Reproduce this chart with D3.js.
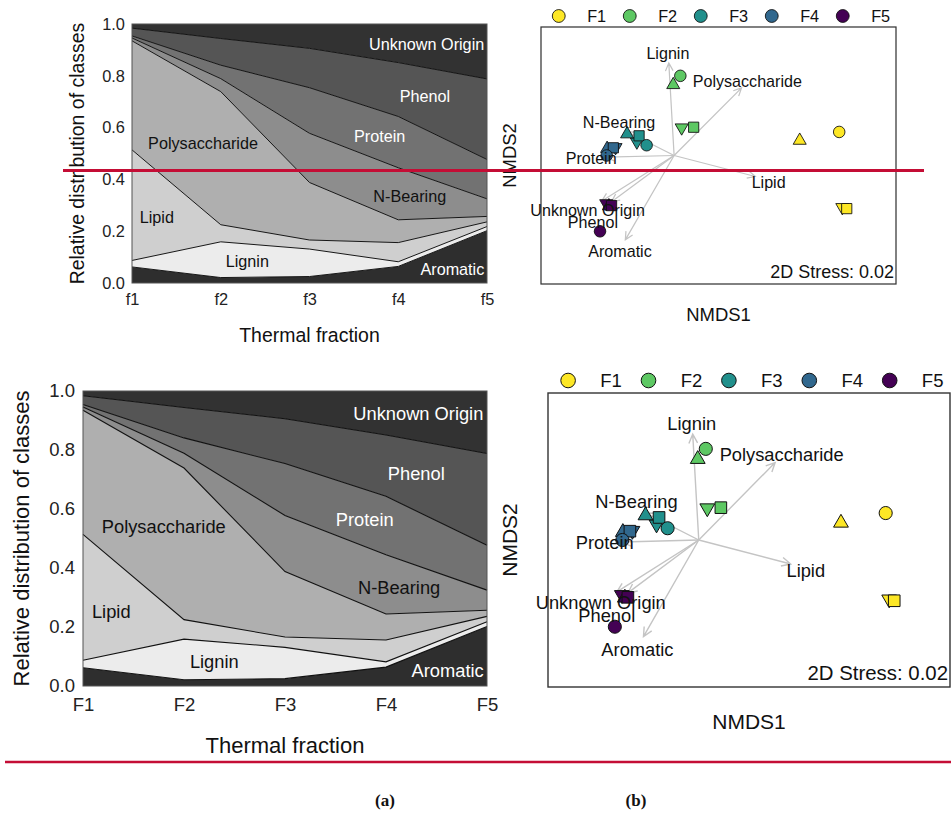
<!DOCTYPE html>
<html>
<head>
<meta charset="utf-8">
<script src="https://cdn.jsdelivr.net/npm/d3@7"></script>
<style>
  body { margin: 0; background: #fff; }
  svg { display: block; }
  text { font-family: "Liberation Sans", Arial, sans-serif; }
</style>
</head>
<body>
<script>
const W = 951, H = 813;

// ---- stacked area data (share of each class per thermal fraction) ----
const fractionsLower = ['f1', 'f2', 'f3', 'f4', 'f5'];
const fractionsUpper = ['F1', 'F2', 'F3', 'F4', 'F5'];
const classes = ['Aromatic', 'Lignin', 'Lipid', 'Polysaccharide', 'N-Bearing', 'Protein', 'Phenol', 'Unknown Origin'];
const aromatic       = [0.062, 0.021, 0.025, 0.064, 0.202];
const lignin         = [0.025, 0.138, 0.106, 0.018, 0.016];
const lipid          = [0.427, 0.066, 0.035, 0.074, 0.018];
const polysaccharide = [0.421, 0.514, 0.222, 0.088, 0.021];
const nBearing       = [0.011, 0.050, 0.190, 0.201, 0.068];
const protein        = [0.008, 0.052, 0.176, 0.198, 0.152];
const phenol         = [0.030, 0.103, 0.152, 0.208, 0.311];
const unknownOrigin  = [0.016, 0.056, 0.094, 0.149, 0.212];
const yTicks = [0, 0.2, 0.4, 0.6, 0.8, 1.0];
// where the class names sit, in (fraction index, share) units
const areaLabelX = [3.61, 1.30, 0.28, 0.80, 3.13, 2.79, 3.30, 3.32];
const areaLabelY = [0.052, 0.082, 0.252, 0.541, 0.335, 0.565, 0.719, 0.922];

const classFill = ['#2e2e2e', '#ececec', '#cfcfcf', '#afafaf', '#8d8d8d', '#727272', '#555555', '#323232'];
const classText = ['#fff', '#111', '#111', '#111', '#111', '#fff', '#fff', '#fff'];

// ---- NMDS data ----
const groups = ['F1', 'F2', 'F3', 'F4', 'F5'];
const groupColor = ['#FDE725', '#5DC863', '#21908C', '#31688E', '#440154'];
// sample scores per group, order: down-triangle, triangle, square, circle
const shapes = ['down', 'triangle', 'square', 'circle'];
const nmds1F1 = [0.379, 0.283, 0.389, 0.372];
const nmds2F1 = [-0.121, 0.035, -0.124, 0.055];
const nmds1F2 = [0.017, -0.002, 0.044, 0.014];
const nmds2F2 = [0.065, 0.165, 0.066, 0.186];
const nmds1F3 = [-0.084, -0.106, -0.079, -0.062];
const nmds2F3 = [0.032, 0.050, 0.046, 0.024];
const nmds1F4 = [-0.132, -0.151, -0.137, -0.152];
const nmds2F4 = [0.019, 0.016, 0.018, 0.000];
const nmds1F5 = [-0.153, -0.147, -0.141, -0.167];
const nmds2F5 = [-0.112, -0.118, -0.117, -0.177];
// fitted class vectors
const vectorNames = ['Lignin', 'Polysaccharide', 'N-Bearing', 'Protein', 'Lipid', 'Unknown Origin', 'Phenol', 'Aromatic'];
const vecNmds1 = [-0.012, 0.152, -0.105, -0.153, 0.183, -0.163, -0.141, -0.110];
const vecNmds2 = [0.216, 0.158, 0.055, -0.004, -0.049, -0.106, -0.108, -0.197];
const vecLabelNmds1 = [-0.014, 0.165, -0.124, -0.187, 0.213, -0.195, -0.183, -0.122];
const vecLabelNmds2 = [0.238, 0.174, 0.078, -0.006, -0.063, -0.128, -0.155, -0.223];
const stressText = '2D Stress: 0.02';

const svg = d3.select('body').append('svg')
  .attr('width', W)
  .attr('height', H);

const series = [aromatic, lignin, lipid, polysaccharide, nBearing, protein, phenol, unknownOrigin];
const rows = d3.range(5).map(i => {
  const r = { i: i };
  classes.forEach((c, j) => r[c] = series[j][i]);
  return r;
});
const stacked = d3.stack().keys(classes)(rows);

function drawArea(box, k, tickLabels) {
  const g = svg.append('g');
  const x = d3.scaleLinear().domain([0, 4]).range([box.x0, box.x1]);
  const y = d3.scaleLinear().domain([0, 1]).range([box.y1, box.y0]);

  const area = d3.area()
    .x(d => x(d.data.i))
    .y0(d => y(d[0]))
    .y1(d => y(d[1]));
  const line = d3.line()
    .x(d => x(d.data.i))
    .y(d => y(d[1]));

  g.selectAll('path.layer')
    .data(stacked)
    .enter().append('path')
    .attr('class', 'layer')
    .attr('d', area)
    .attr('fill', (d, i) => classFill[i]);

  g.selectAll('path.edge')
    .data(stacked.slice(0, -1))
    .enter().append('path')
    .attr('class', 'edge')
    .attr('d', line)
    .attr('fill', 'none')
    .attr('stroke', '#111')
    .attr('stroke-width', 1.1 * k);

  g.append('rect')
    .attr('x', box.x0).attr('y', box.y0)
    .attr('width', box.x1 - box.x0).attr('height', box.y1 - box.y0)
    .attr('fill', 'none')
    .attr('stroke', '#555')
    .attr('stroke-width', 1);

  g.selectAll('text.cls')
    .data(classes)
    .enter().append('text')
    .attr('class', 'cls')
    .attr('x', (d, i) => x(areaLabelX[i]))
    .attr('y', (d, i) => y(areaLabelY[i]))
    .attr('dy', '0.35em')
    .attr('text-anchor', 'middle')
    .attr('fill', (d, i) => classText[i])
    .style('font-size', (18.3 * k) + 'px')
    .text(d => d);

  const ya = g.append('g')
    .attr('transform', `translate(${box.x0},0)`)
    .call(d3.axisLeft(y).tickValues(yTicks).tickFormat(d3.format('.1f')).tickSize(0).tickPadding(8 * k));
  ya.select('.domain').remove();
  ya.selectAll('text').style('font-size', (18.5 * k) + 'px').attr('fill', '#222')
    .style('font-family', '"Liberation Sans", Arial, sans-serif');

  const xa = g.append('g')
    .attr('transform', `translate(0,${box.y1})`)
    .call(d3.axisBottom(x).tickValues(d3.range(5)).tickFormat(i => tickLabels[i]).tickSize(0).tickPadding(12 * k));
  xa.select('.domain').remove();
  xa.selectAll('text').style('font-size', (18.5 * k) + 'px').attr('fill', '#222')
    .style('font-family', '"Liberation Sans", Arial, sans-serif');

  g.append('text')
    .attr('x', (box.x0 + box.x1) / 2)
    .attr('y', box.y1 + 59 * k)
    .attr('dy', '0.35em')
    .attr('text-anchor', 'middle')
    .attr('fill', '#111')
    .style('font-size', (22 * k) + 'px')
    .text('Thermal fraction');

  const cy = (box.y0 + box.y1) / 2;
  g.append('text')
    .attr('transform', `translate(${box.x0 - 62 * k},${cy}) rotate(-90)`)
    .attr('dy', '0.35em')
    .attr('text-anchor', 'middle')
    .attr('fill', '#111')
    .style('font-size', (22 * k) + 'px')
    .text('Relative distribution of classes');
}

function drawNmds(box, k, nmds2X) {
  const g = svg.append('g');
  const w = box.x1 - box.x0;
  const x = d3.scaleLinear().domain([-0.3, 0.5]).range([box.x0, box.x1]);
  const y = d3.scaleLinear().domain([-0.3, 0.3]).range([box.y1, box.y0]);

  g.append('rect')
    .attr('x', box.x0).attr('y', box.y0)
    .attr('width', w).attr('height', box.y1 - box.y0)
    .attr('fill', '#fff')
    .attr('stroke', '#333')
    .attr('stroke-width', 1.4 * k);

  // vectors
  const ox = x(0), oy = y(0);
  const head = 10 * k, spread = 0.45;
  const vec = g.append('g')
    .attr('fill', 'none')
    .attr('stroke', '#c4c4c4')
    .attr('stroke-width', 1.4 * k);
  vectorNames.forEach((n, i) => {
    const tx = x(vecNmds1[i]), ty = y(vecNmds2[i]);
    const a = Math.atan2(ty - oy, tx - ox);
    const p = d3.path();
    p.moveTo(ox, oy);
    p.lineTo(tx, ty);
    p.moveTo(tx - head * Math.cos(a - spread), ty - head * Math.sin(a - spread));
    p.lineTo(tx, ty);
    p.lineTo(tx - head * Math.cos(a + spread), ty - head * Math.sin(a + spread));
    vec.append('path').attr('d', p.toString());
  });

  // samples
  const symType = {
    down: d3.symbolTriangle, triangle: d3.symbolTriangle,
    square: d3.symbolSquare, circle: d3.symbolCircle
  };
  const symSize = { down: 95, triangle: 95, square: 135, circle: 135 };
  const scores1 = [nmds1F1, nmds1F2, nmds1F3, nmds1F4, nmds1F5];
  const scores2 = [nmds2F1, nmds2F2, nmds2F3, nmds2F4, nmds2F5];
  const pts = [];
  groups.forEach((gr, gi) => {
    shapes.forEach((s, si) => {
      pts.push({ g: gi, s: s, a: scores1[gi][si], b: scores2[gi][si] });
    });
  });
  g.selectAll('path.pt')
    .data(pts)
    .enter().append('path')
    .attr('class', 'pt')
    .attr('d', d => d3.symbol(symType[d.s], symSize[d.s] * k * k)())
    .attr('transform', d => `translate(${x(d.a)},${y(d.b)})` + (d.s === 'down' ? ' rotate(180)' : ''))
    .attr('fill', d => groupColor[d.g])
    .attr('stroke', '#111')
    .attr('stroke-width', 1 * k);

  g.selectAll('text.vec')
    .data(vectorNames)
    .enter().append('text')
    .attr('class', 'vec')
    .attr('x', (d, i) => x(vecLabelNmds1[i]))
    .attr('y', (d, i) => y(vecLabelNmds2[i]))
    .attr('dy', '0.35em')
    .attr('text-anchor', 'middle')
    .attr('fill', '#111')
    .style('font-size', (18.3 * k) + 'px')
    .text(d => d);

  g.append('text')
    .attr('x', box.x1 - 2)
    .attr('y', box.y1 - 7 * k)
    .attr('text-anchor', 'end')
    .attr('fill', '#111')
    .style('font-size', (20.4 * k) + 'px')
    .text(stressText);

  // legend
  const ly = box.y0 - 12.5 * k;
  const leg = g.selectAll('g.leg')
    .data(groups)
    .enter().append('g')
    .attr('class', 'leg')
    .attr('transform', (d, i) => `translate(${box.x0 + w * (0.05 + 0.2 * i)},${ly})`);
  leg.append('circle')
    .attr('r', 7.3 * k)
    .attr('fill', (d, i) => groupColor[i])
    .attr('stroke', '#111')
    .attr('stroke-width', 1 * k);
  leg.append('text')
    .attr('x', w * 0.08)
    .attr('dy', '0.36em')
    .attr('fill', '#111')
    .style('font-size', (18.5 * k) + 'px')
    .text(d => d);

  g.append('text')
    .attr('x', (box.x0 + box.x1) / 2)
    .attr('y', box.y1 + 35 * k)
    .attr('dy', '0.35em')
    .attr('text-anchor', 'middle')
    .attr('fill', '#111')
    .style('font-size', (21 * k) + 'px')
    .text('NMDS1');

  g.append('text')
    .attr('transform', `translate(${nmds2X},${(box.y0 + box.y1) / 2}) rotate(-90)`)
    .attr('dy', '0.35em')
    .attr('text-anchor', 'middle')
    .attr('fill', '#111')
    .style('font-size', (21 * k) + 'px')
    .text('NMDS2');
}

// top (small) copy and bottom (large) copy
drawArea({ x0: 132, x1: 487, y0: 24, y1: 283 }, 0.885, fractionsLower);
drawNmds({ x0: 541, x1: 896, y0: 27, y1: 284 }, 0.88, 510);
drawArea({ x0: 83, x1: 487, y0: 391, y1: 686 }, 1, fractionsUpper);
drawNmds({ x0: 548, x1: 950, y0: 393, y1: 687 }, 1, 510);

// red rules
svg.append('line')
  .attr('x1', 63).attr('x2', 924).attr('y1', 170.5).attr('y2', 170.5)
  .attr('stroke', '#c40d35').attr('stroke-width', 3);
svg.append('line')
  .attr('x1', 5).attr('x2', 951).attr('y1', 762).attr('y2', 762)
  .attr('stroke', '#c40d35').attr('stroke-width', 2.5);

// panel letters
svg.selectAll('text.panel')
  .data(['(a)', '(b)'])
  .enter().append('text')
  .attr('class', 'panel')
  .attr('x', (d, i) => [385, 636][i])
  .attr('y', 806)
  .attr('text-anchor', 'middle')
  .attr('fill', '#111')
  .style('font-family', '"Liberation Serif", "DejaVu Serif", serif')
  .style('font-weight', 'bold')
  .style('font-size', '17px')
  .text(d => d);
</script>
</body>
</html>
